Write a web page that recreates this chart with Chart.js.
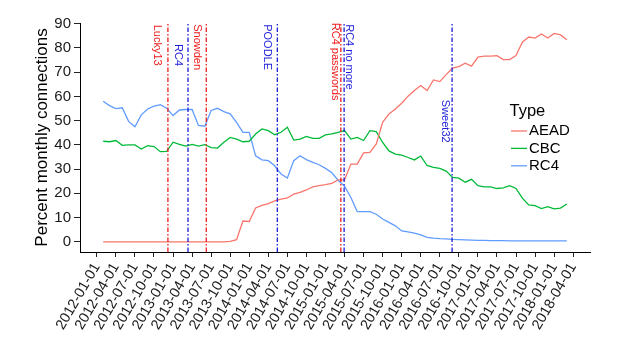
<!DOCTYPE html>
<html><head><meta charset="utf-8">
<script src="https://cdn.jsdelivr.net/npm/chart.js@4.4.1/dist/chart.umd.min.js"></script>
<style>html,body{margin:0;padding:0;background:#fff}#wrap{width:630px;height:354px;position:relative}</style>
</head><body><div id="wrap"><canvas id="c" width="630" height="354"></canvas></div>
<script>
// ---------- data ----------
const categories = [
 "2012-02-01","2012-03-01","2012-04-01","2012-05-01","2012-06-01","2012-07-01","2012-08-01","2012-09-01","2012-10-01","2012-11-01","2012-12-01",
 "2013-01-01","2013-02-01","2013-03-01","2013-04-01","2013-05-01","2013-06-01","2013-07-01","2013-08-01","2013-09-01","2013-10-01","2013-11-01","2013-12-01",
 "2014-01-01","2014-02-01","2014-03-01","2014-04-01","2014-05-01","2014-06-01","2014-07-01","2014-08-01","2014-09-01","2014-10-01","2014-11-01","2014-12-01",
 "2015-01-01","2015-02-01","2015-03-01","2015-04-01","2015-05-01","2015-06-01","2015-07-01","2015-08-01","2015-09-01","2015-10-01","2015-11-01","2015-12-01",
 "2016-01-01","2016-02-01","2016-03-01","2016-04-01","2016-05-01","2016-06-01","2016-07-01","2016-08-01","2016-09-01","2016-10-01","2016-11-01","2016-12-01",
 "2017-01-01","2017-02-01","2017-03-01","2017-04-01","2017-05-01","2017-06-01","2017-07-01","2017-08-01","2017-09-01","2017-10-01","2017-11-01","2017-12-01",
 "2018-01-01","2018-02-01","2018-03-01"
];
const aead = [
 0,0,0,0,0,0,0,0,0,0,0,
 0,0,0,0,0,0,0,0,0,0.2,0.9,8.6,
 8.4,14.0,15.0,15.8,16.9,17.6,18.1,19.7,20.4,21.4,22.7,23.2,
 23.6,24.1,25.6,25.6,32.1,32.1,36.7,36.9,40.4,49.3,52.8,54.8,
 57.2,60.1,62.4,64.5,62.4,66.8,66.1,69.0,71.7,72.3,73.7,72.5,
 76.2,76.6,76.6,76.8,75.2,75.2,76.9,82.4,84.5,84.1,85.8,84.1,
 86.0,85.4,83.4
];
const cbc = [
 41.5,41.3,41.8,39.8,40.0,40.0,38.3,39.7,39.3,37.2,37.3,
 41.1,40.2,39.5,40.2,39.5,40.1,38.9,38.7,41.1,43.1,42.4,41.3,
 41.5,44.5,46.6,45.9,44.2,45.2,47.3,42.0,42.4,43.5,42.7,42.7,
 44.1,44.5,45.2,45.9,42.4,43.1,41.8,45.9,45.5,41.0,37.5,36.2,
 35.8,34.8,33.8,35.4,31.5,30.7,30.3,29.2,26.6,26.3,24.6,25.8,
 23.2,22.7,22.7,22.0,22.3,23.2,22.0,18.0,15.2,14.9,13.7,14.5,
 13.6,13.9,15.6
];
const rc4 = [
 58.0,56.2,55.0,55.3,49.7,47.5,52.4,54.8,56.0,56.6,55.1,
 52.1,54.4,54.6,54.6,48.0,47.7,54.2,55.1,53.7,52.8,49.3,45.2,
 45.2,35.5,33.8,33.5,31.4,28.0,26.3,33.5,35.5,33.9,32.8,31.8,
 30.3,28.5,25.4,23.0,18.3,12.5,12.5,12.5,11.4,9.4,8.0,6.6,
 4.5,4.1,3.6,2.9,1.8,1.5,1.3,1.2,1.0,0.9,0.8,0.7,
 0.6,0.6,0.5,0.5,0.5,0.4,0.4,0.4,0.4,0.4,0.4,0.4,
 0.4,0.4,0.4
];
const seriesNames = ["AEAD","CBC","RC4"];
const xTickLabels = [
 "2012-01-01","2012-04-01","2012-07-01","2012-10-01","2013-01-01","2013-04-01","2013-07-01","2013-10-01",
 "2014-01-01","2014-04-01","2014-07-01","2014-10-01","2015-01-01","2015-04-01","2015-07-01","2015-10-01",
 "2016-01-01","2016-04-01","2016-07-01","2016-10-01","2017-01-01","2017-04-01","2017-07-01","2017-10-01",
 "2018-01-01","2018-04-01"
];
const yTickValues = [0,10,20,30,40,50,60,70,80,90];
const eventNames = ["Lucky13","RC4","Snowden","POODLE","RC4 passwords","RC4 no more","Sweet32"];
const eventDates = ["2012-12-07","2013-03-12","2013-06-08","2014-05-14","2015-03-14","2015-03-30","2016-08-30"];
const eventGroup = [1,2,1,2,1,2,2];

// ---------- helpers / styles ----------
const FONT = "'Liberation Sans', Arial, Helvetica, sans-serif";
function monthIndex(s){
  const p = s.split('-').map(Number);
  const dim = new Date(p[0], p[1], 0).getDate();
  return (p[0]-2012)*12 + (p[1]-1) + ((p[2]||1)-1)/dim;
}
const seriesColors = ["#F8766D","#00BA38","#619CFF"];
const groupColors = {1:"#EE1C1C", 2:"#1C1CD8"};
// label placement: [value-axis anchor, horizontal pixel offset from line]
const eventLabelPlacement = {
  "Lucky13":[89.6,-11], "RC4":[81.6,-9.5], "Snowden":[89.8,-9.5], "POODLE":[89.8,-10],
  "RC4 passwords":[90.4,-6], "RC4 no more":[89.8,5], "Sweet32":[58.6,-7]
};

const xs = categories.map(monthIndex);
const toXY = arr => arr.map((v,i)=>({x:xs[i], y:v}));
const seriesData = [aead, cbc, rc4];

const eventsPlugin = {
  id:'eventsPlugin',
  afterDatasetsDraw(chart){
    const {ctx, chartArea, scales} = chart;
    eventNames.forEach((name,i)=>{
      const px = scales.x.getPixelForValue(monthIndex(eventDates[i]));
      const col = groupColors[eventGroup[i]];
      ctx.save();
      ctx.strokeStyle = col; ctx.lineWidth = 1.3; ctx.setLineDash([4.5,2,1.5,2]);
      ctx.beginPath(); ctx.moveTo(px, chartArea.bottom); ctx.lineTo(px, chartArea.top); ctx.stroke();
      ctx.setLineDash([]);
      const pl = eventLabelPlacement[name];
      ctx.translate(px + pl[1], scales.y.getPixelForValue(pl[0]));
      ctx.rotate(Math.PI/2);
      ctx.fillStyle = col; ctx.font = "11px " + FONT;
      ctx.textAlign = 'left'; ctx.textBaseline = 'middle';
      ctx.fillText(name, 0, 0);
      ctx.restore();
    });
  }
};
const legendPlugin = {
  id:'legendPlugin',
  afterDraw(chart){
    const {ctx} = chart;
    ctx.save();
    ctx.fillStyle = '#000'; ctx.textAlign='left'; ctx.textBaseline='middle';
    ctx.font = "16.5px " + FONT;
    ctx.fillText("Type", 509.5, 111);
    chart.data.datasets.forEach((ds,i)=>{
      const yy = 131 + i*17.4;
      ctx.strokeStyle = ds.borderColor; ctx.lineWidth = 1.3;
      ctx.beginPath(); ctx.moveTo(511, yy); ctx.lineTo(527, yy); ctx.stroke();
      ctx.fillStyle = '#000'; ctx.font = "15px " + FONT;
      ctx.fillText(ds.label, 529, yy);
    });
    ctx.restore();
  }
};

new Chart(document.getElementById('c'), {
  type:'line',
  data:{
    datasets: seriesNames.map((n,i)=>({
      label:n, data:toXY(seriesData[i]), borderColor:seriesColors[i], backgroundColor:seriesColors[i],
      borderWidth:1.3, pointRadius:0, tension:0, fill:false
    }))
  },
  options:{
    responsive:false, animation:false,
    layout:{padding:{left:0,right:40,top:23,bottom:0}},
    plugins:{legend:{display:false}, tooltip:{enabled:false}},
    scales:{
      x:{
        type:'linear', min:-2.65, max:77.65,
        afterBuildTicks: s => { s.ticks = xTickLabels.map(l=>({value:monthIndex(l)})); },
        afterFit: s => { s.height = 102; },
        ticks:{autoSkip:false, minRotation:60, maxRotation:60, padding:3, color:'#1a1a1a',
               font:{size:14.5, family:FONT},
               callback:(v)=>{ const k = xTickLabels.findIndex(l=>Math.abs(monthIndex(l)-v)<1e-6); return k>=0?xTickLabels[k]:''; }},
        grid:{display:true, drawOnChartArea:false, drawTicks:true, tickLength:5, color:'#222', lineWidth:1},
        border:{display:true, color:'#000', width:1}
      },
      y:{
        type:'linear', min:-4.2, max:90.3,
        afterBuildTicks: s => { s.ticks = yTickValues.map(v=>({value:v})); },
        afterFit: s => { s.width = 80; },
        ticks:{padding:3, color:'#1a1a1a', font:{size:15, family:FONT}},
        grid:{display:true, drawOnChartArea:false, drawTicks:true, tickLength:6, color:'#222', lineWidth:1},
        border:{display:true, color:'#000', width:1},
        title:{display:true, text:'Percent monthly connections', color:'#000', font:{size:17, family:FONT}, padding:{top:32,bottom:0}}
      }
    }
  },
  plugins:[eventsPlugin, legendPlugin]
});
</script></body></html>
